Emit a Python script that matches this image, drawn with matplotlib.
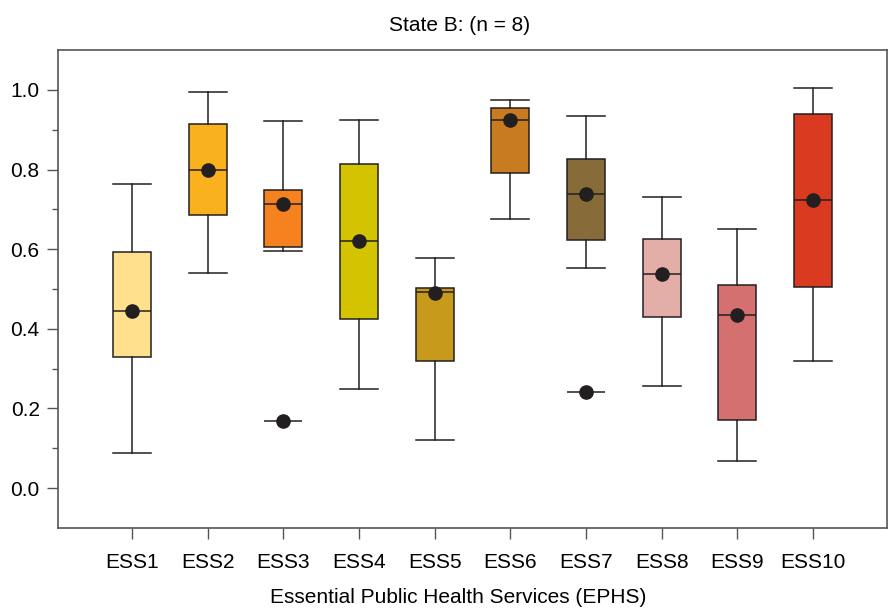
import numpy as np
import matplotlib.pyplot as plt
from matplotlib.ticker import FixedLocator

plt.rcParams['font.family'] = ['Liberation Sans', 'DejaVu Sans']

# values
labels = ['ESS1', 'ESS2', 'ESS3', 'ESS4', 'ESS5', 'ESS6', 'ESS7', 'ESS8', 'ESS9', 'ESS10']
whis_lo = [0.088, 0.540, 0.596, 0.248, 0.121, 0.676, 0.554, 0.256, 0.068, 0.320]
q1 = [0.329, 0.686, 0.605, 0.424, 0.319, 0.791, 0.622, 0.430, 0.171, 0.504]
median = [0.445, 0.800, 0.713, 0.620, 0.492, 0.925, 0.738, 0.537, 0.435, 0.724]
q3 = [0.593, 0.915, 0.749, 0.813, 0.503, 0.955, 0.827, 0.626, 0.510, 0.940]
whis_hi = [0.764, 0.995, 0.923, 0.925, 0.578, 0.975, 0.935, 0.732, 0.651, 1.004]
means = [0.445, 0.800, 0.714, 0.620, 0.490, 0.925, 0.738, 0.537, 0.435, 0.724]
outliers = [[], [], [0.169], [], [], [], [0.242], [], [], []]
colors = ['#FFE08C', '#F9B11E', '#F5821F', '#D4C300', '#C79A1C',
          '#C97B20', '#876C3A', '#E4AEA8', '#D4706F', '#D93A20']

stats = []
for i in range(len(labels)):
    stats.append({'whislo': whis_lo[i], 'q1': q1[i], 'med': median[i], 'q3': q3[i],
                  'whishi': whis_hi[i], 'mean': means[i], 'fliers': []})

fig = plt.figure(figsize=(8.89, 6.11), dpi=100)
ax = fig.add_axes([0.065, 0.136, 0.933, 0.782])

pos = np.arange(1, len(labels) + 1)
lc = '#231f20'
bp = ax.bxp(stats, positions=pos, widths=0.5, capwidths=0.5, patch_artist=True,
            showmeans=True, showfliers=False,
            boxprops=dict(edgecolor=lc, linewidth=1.1),
            medianprops=dict(color=lc, linewidth=1.1),
            whiskerprops=dict(color=lc, linewidth=1.1),
            capprops=dict(color=lc, linewidth=1.1),
            meanprops=dict(marker='o', markerfacecolor=lc, markeredgecolor=lc, markersize=9.5))
for patch, c in zip(bp['boxes'], colors):
    patch.set_facecolor(c)

# outliers: short line plus dot
for p, vals in zip(pos, outliers):
    for v in vals:
        ax.hlines(v, p - 0.25, p + 0.25, color=lc, linewidth=1.1, zorder=3)
        ax.plot(p, v, 'o', color=lc, markersize=9.5, zorder=4)

ax.set_xlim(0.02, 10.98)
ax.set_ylim(-0.1, 1.1)
ax.set_xticks(pos)
ax.set_xticklabels(labels)
ax.yaxis.set_minor_locator(FixedLocator([0.1, 0.3, 0.5, 0.7, 0.9]))
ax.set_yticks(np.arange(0, 1.01, 0.2))
ax.set_yticklabels(['0.0', '0.2', '0.4', '0.6', '0.8', '1.0'])
ax.tick_params(axis='both', which='major', length=8, width=1, color='#555555', labelsize=15, pad=5)
ax.tick_params(axis='y', which='minor', length=4, width=1, color='#555555')
ax.tick_params(axis='x', pad=10)
for s in ax.spines.values():
    s.set_color('#555555')
    s.set_linewidth(1.2)

ax.set_title('State B: (n = 8)', fontsize=15, pad=14)
ax.title.set_x(0.485)
ax.set_xlabel('Essential Public Health Services (EPHS)', fontsize=15)
ax.xaxis.set_label_coords(0.483, -0.125)

plt.savefig('out.png', dpi=100)
